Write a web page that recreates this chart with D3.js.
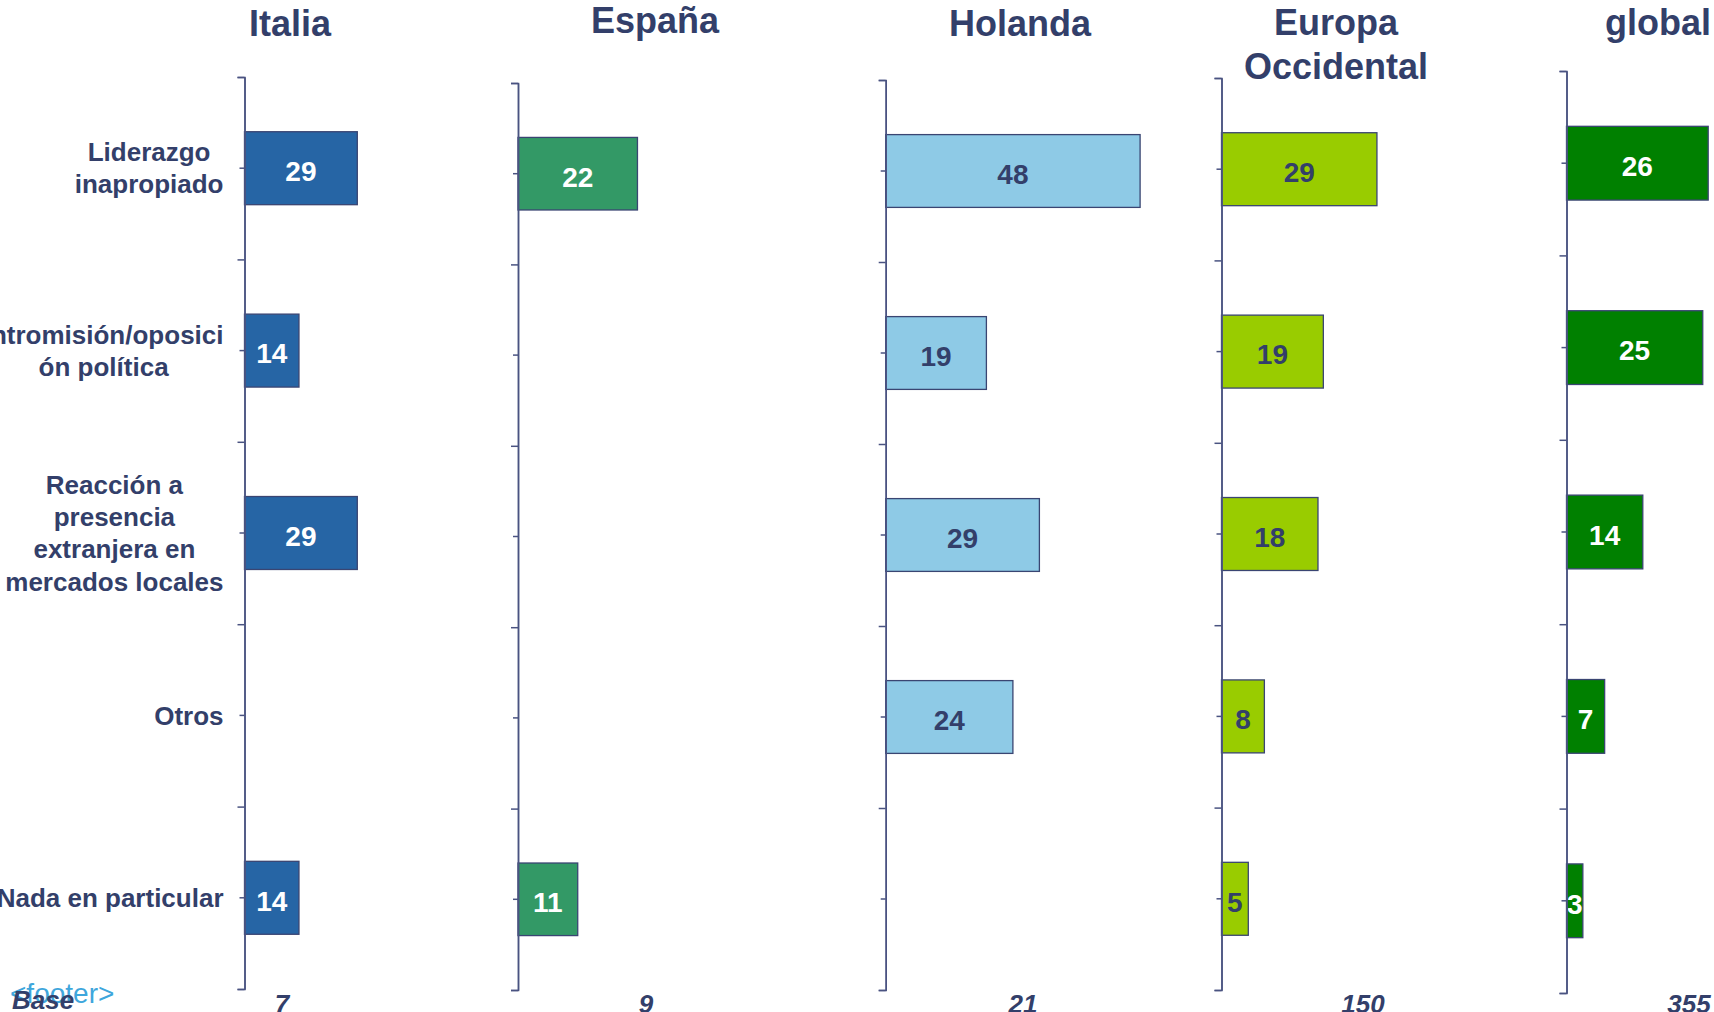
<!DOCTYPE html>
<html>
<head>
<meta charset="utf-8">
<script src="https://cdnjs.cloudflare.com/ajax/libs/d3/7.8.5/d3.min.js"></script>
<style>
	body { margin: 0; background: #fff; overflow: hidden; }
	text { font-family: "Liberation Sans", Arial, sans-serif; }
</style>
</head>
<body>
<script>

// data
const categories = ['Liderazgo inapropiado', 'Intromisión/oposición política',
	'Reacción a presencia extranjera en mercados locales', 'Otros', 'Nada en particular']
const categoryLines = [
	['Liderazgo', 'inapropiado'],
	['Intromisión/oposici', 'ón política'],
	['Reacción a', 'presencia', 'extranjera en', 'mercados locales'],
	['Otros'],
	['Nada en particular']
]
const regions = ['Italia', 'España', 'Holanda', 'Europa Occidental', 'global']
const regionLines = [['Italia'], ['España'], ['Holanda'], ['Europa', 'Occidental'], ['global']]
const italia = [29, 14, 29, null, 14]
const espana = [22, null, null, null, 11]
const holanda = [48, 19, 29, 24, null]
const europa = [29, 19, 18, 8, 5]
const globalVals = [26, 25, 14, 7, 3]
const bases = [7, 9, 21, 150, 355]

const seriesValues = [italia, espana, holanda, europa, globalVals]

// layout of each panel (screen pixels)
const panels = [
	{ x: 244.5, top: 77, bottom: 989, w: 389, titleX: 290, titleY: 36, baseX: 282, fill: '#2665a5', text: '#fff' },
	{ x: 518, top: 83, bottom: 990, w: 543, titleX: 655, titleY: 33, baseX: 646, fill: '#339966', text: '#fff' },
	{ x: 885.7, top: 80, bottom: 990, w: 530, titleX: 1020, titleY: 36, baseX: 1023, fill: '#8ecae6', text: '#333f6a' },
	{ x: 1221.5, top: 78, bottom: 990, w: 536, titleX: 1336, titleY: 35, baseX: 1363, fill: '#99cc00', text: '#333f6a' },
	{ x: 1566.5, top: 71, bottom: 993, w: 545, titleX: 1658, titleY: 35, baseX: 1689, fill: '#008000', text: '#fff' }
]

const navy = '#333f6a'
const axisColor = '#4a5381'
const width = 1714
const height = 1012

const svg = d3.select('body').append('svg')
	.attr('width', width)
	.attr('height', height)

// footer placeholder sits under "Base"
svg.append('text')
	.attr('x', 10)
	.attr('y', 1003)
	.style('font-size', '28px')
	.style('fill', '#3ea6dc')
	.text('<footer>')

svg.append('text')
	.attr('x', 12)
	.attr('y', 1009)
	.style('font-size', '26px')
	.style('font-weight', 'bold')
	.style('font-style', 'italic')
	.style('fill', navy)
	.text('Base')

// category labels, lines centred inside a right-aligned block
const labelRight = 223.5
const lineH = 32.3
const firstY = d3.scaleBand().domain(categories)
	.range([panels[0].top, panels[0].bottom])
	.paddingInner(0.6).paddingOuter(0.3)

categories.forEach(function(c, i) {
	const lines = categoryLines[i]
	const g = svg.append('g')
	const cy = firstY(c) + firstY.bandwidth() / 2
	const t = g.selectAll('text')
		.data(lines)
	.enter().append('text')
		.attr('y', function(d, j) { return cy + (j - (lines.length - 1) / 2) * lineH })
		.attr('dy', '0.35em')
		.style('font-size', '26px')
		.style('font-weight', 'bold')
		.style('fill', navy)
		.style('text-anchor', 'middle')
		.text(function(d) { return d })
	let maxW = 0
	t.each(function() { maxW = Math.max(maxW, this.getComputedTextLength()) })
	t.attr('x', labelRight - maxW / 2)
})

panels.forEach(function(p, k) {
	const vals = seriesValues[k]
	const data = categories.map(function(c, i) { return { cat: c, v: vals[i] } })
		.filter(function(d) { return d.v != null })

	const y = d3.scaleBand().domain(categories)
		.range([p.top, p.bottom])
		.paddingInner(0.6).paddingOuter(0.3)
	const x = d3.scaleLinear().domain([0, 100]).range([0, p.w])
	const yEdges = d3.scaleLinear().domain([0, categories.length]).range([p.top, p.bottom])

	const g = svg.append('g')
		.attr('transform', 'translate(' + p.x + ',0)')

	// title
	svg.append('text')
		.attr('x', p.titleX)
		.attr('y', p.titleY)
		.style('font-size', '36px')
		.style('font-weight', 'bold')
		.style('fill', navy)
		.style('text-anchor', 'middle')
	.selectAll('tspan')
		.data(regionLines[k])
	.enter().append('tspan')
		.attr('x', p.titleX)
		.attr('dy', function(d, j) { return j === 0 ? 0 : 44 })
		.text(function(d) { return d })

	// bars
	g.selectAll('rect.bar')
		.data(data)
	.enter().append('rect')
		.attr('class', 'bar')
		.attr('x', 0)
		.attr('y', function(d) { return y(d.cat) })
		.attr('width', function(d) { return x(d.v) })
		.attr('height', y.bandwidth())
		.style('fill', p.fill)
		.style('stroke', '#3a4572')
		.style('stroke-width', 1.3)

	g.selectAll('text.val')
		.data(data)
	.enter().append('text')
		.attr('class', 'val')
		.attr('x', function(d) { return x(d.v) / 2 })
		.attr('y', function(d) { return y(d.cat) + y.bandwidth() / 2 })
		.attr('dy', '0.46em')
		.style('font-size', '28px')
		.style('font-weight', 'bold')
		.style('fill', p.text)
		.style('text-anchor', 'middle')
		.text(function(d) { return d.v })

	// axis: long ticks on band edges, short ticks on band centres
	g.append('g')
		.call(d3.axisLeft(yEdges).ticks(categories.length).tickSize(7).tickFormat(''))
	g.append('g')
		.call(d3.axisLeft(y).tickSize(5).tickSizeOuter(0).tickFormat(''))
	g.selectAll('.domain, .tick line')
		.style('stroke', axisColor)
		.style('stroke-width', 1.5)

	// base
	svg.append('text')
		.attr('x', p.baseX)
		.attr('y', 1013)
		.style('font-size', '26px')
		.style('font-weight', 'bold')
		.style('font-style', 'italic')
		.style('fill', navy)
		.style('text-anchor', 'middle')
		.text(bases[k])
})

</script>
</body>
</html>
